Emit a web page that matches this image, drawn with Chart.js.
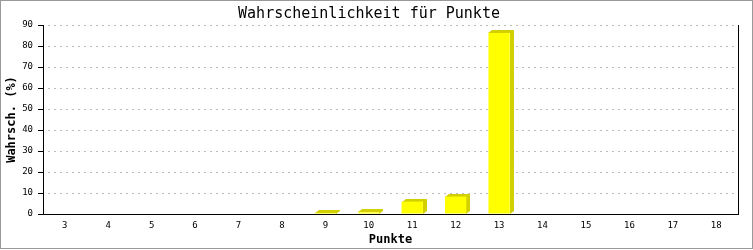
<!DOCTYPE html>
<html>
<head>
<meta charset="utf-8">
<script src="https://cdn.jsdelivr.net/npm/chart.js@4"></script>
<style>
  html, body { margin: 0; padding: 0; background: #fff; }
  #wrap { width: 753px; height: 250px; position: relative; }
</style>
</head>
<body>
<div id="wrap"><canvas id="chart"></canvas></div>
<script>
const categories = ['3', '4', '5', '6', '7', '8', '9', '10', '11', '12', '13', '14', '15', '16', '17', '18'];
const chance = [0, 0, 0, 0, 0, 0, 0.5, 0.8, 5.9, 8.3, 86.2, 0, 0, 0, 0, 0];
const yTicks = [0, 10, 20, 30, 40, 50, 60, 70, 80, 90];

const mono = '"DejaVu Sans Mono", "Liberation Mono", monospace';

// dotted grid, fake 3d depth behind each bar, frame lines
const depthPlugin = {
  id: 'depth',
  beforeDatasetsDraw(chart) {
    const ctx = chart.ctx;
    const a = chart.chartArea;
    const y = chart.scales.y;
    ctx.save();
    ctx.strokeStyle = '#bdbdbd';
    ctx.lineWidth = 1;
    ctx.setLineDash([2, 4]);
    yTicks.forEach(v => {
      if (v === 0) return;
      const py = Math.round(y.getPixelForValue(v)) + 0.5;
      ctx.beginPath();
      ctx.moveTo(a.left + 5, py);
      ctx.lineTo(a.right - 1, py);
      ctx.stroke();
    });
    ctx.setLineDash([]);

    const dx = 4, dy = 3;
    ctx.fillStyle = '#d2d000';
    chart.getDatasetMeta(0).data.forEach(bar => {
      const p = bar.getProps(['x', 'y', 'base', 'width'], true);
      if (p.base - p.y < 0.3) return;
      const l = Math.round(p.x - p.width / 2), r = Math.round(p.x + p.width / 2);
      const t = Math.round(p.y), b = Math.round(p.base);
      ctx.beginPath();
      ctx.moveTo(l, t);
      ctx.lineTo(l + dx, t - dy);
      ctx.lineTo(r + dx, t - dy);
      ctx.lineTo(r + dx, b - dy);
      ctx.lineTo(r, b);
      ctx.lineTo(r, t);
      ctx.closePath();
      ctx.fill();
    });
    ctx.restore();
  },
  afterDraw(chart) {
    const ctx = chart.ctx;
    const a = chart.chartArea;
    ctx.save();
    ctx.strokeStyle = '#000';
    ctx.lineWidth = 1;
    ctx.beginPath();
    ctx.moveTo(Math.round(a.right) + 0.5, a.top);
    ctx.lineTo(Math.round(a.right) + 0.5, a.bottom + 1);
    ctx.stroke();
    ctx.strokeStyle = '#999';
    ctx.strokeRect(0.5, 0.5, chart.width - 1, chart.height - 2);
    ctx.restore();
  }
};

new Chart(document.getElementById('chart'), {
  type: 'bar',
  data: {
    labels: categories,
    datasets: [{
      data: chance,
      backgroundColor: '#ffff00',
      borderWidth: 0,
      barPercentage: 0.49,
      categoryPercentage: 1,
      minBarLength: 0
    }]
  },
  options: {
    responsive: true,
    maintainAspectRatio: false,
    animation: false,
    layout: { padding: { left: 0, right: 15, top: 0, bottom: 0 } },
    plugins: {
      legend: { display: false },
      tooltip: { enabled: false },
      title: {
        display: true,
        text: 'Wahrscheinlichkeit für Punkte',
        color: '#000',
        font: { family: mono, size: 15, weight: 'normal', lineHeight: 1.2 },
        padding: { top: 5, bottom: 2 }
      }
    },
    scales: {
      x: {
        offset: true,
        grid: { display: false, drawTicks: false },
        border: { display: true, color: '#000', width: 1 },
        ticks: { color: '#000', font: { family: mono, size: 9 }, padding: 6, maxRotation: 0, autoSkip: false },
        title: {
          display: true,
          text: 'Punkte',
          color: '#000',
          font: { family: mono, size: 12, weight: 'bold', lineHeight: 1.2 },
          padding: { top: 0, bottom: 3 }
        },
        afterFit(scale) { scale.height = 36; }
      },
      y: {
        min: 0,
        max: 90,
        afterBuildTicks(scale) { scale.ticks = yTicks.map(v => ({ value: v })); },
        grid: {
          drawOnChartArea: false,
          tickColor: '#000',
          tickLength: 5
        },
        border: { display: true, color: '#000', width: 1 },
        ticks: { color: '#000', font: { family: mono, size: 9 }, padding: 5 },
        title: {
          display: true,
          text: 'Wahrsch. (%)',
          color: '#000',
          font: { family: mono, size: 12, weight: 'bold', lineHeight: 1.2 },
          padding: { top: 5, bottom: 0 }
        },
        afterFit(scale) { scale.width = 43; }
      }
    }
  },
  plugins: [depthPlugin]
});
</script>
</body>
</html>
